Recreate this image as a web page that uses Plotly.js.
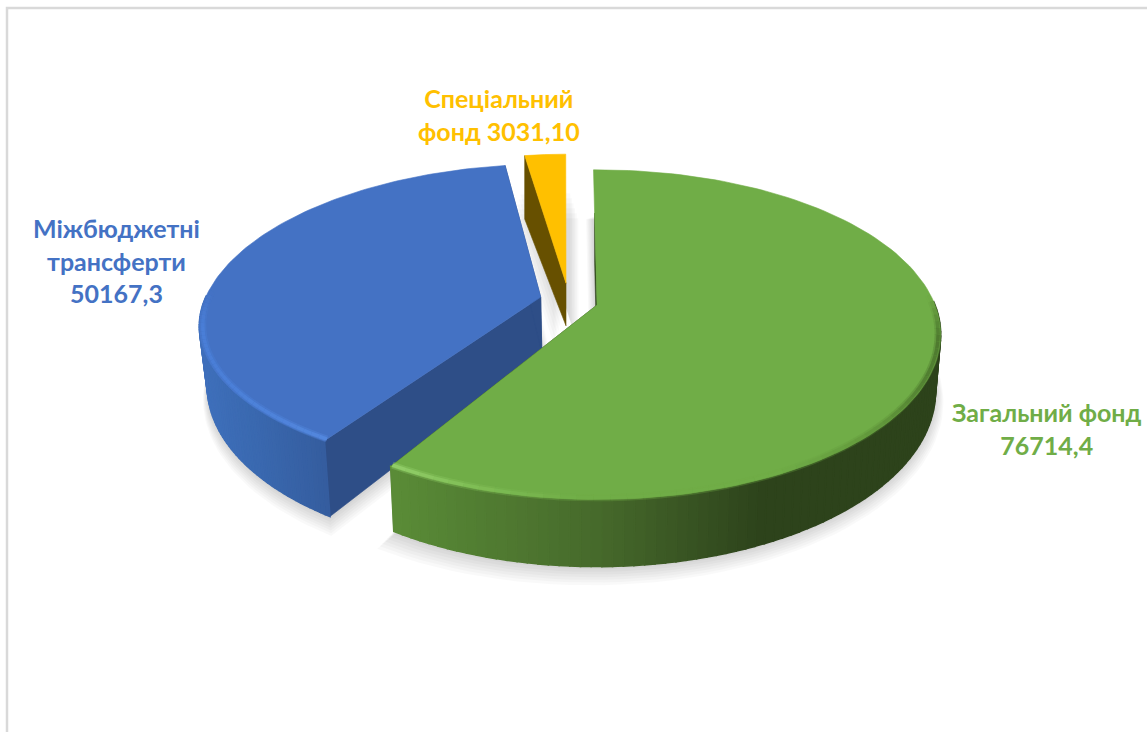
<!DOCTYPE html>
<html><head><meta charset="utf-8">
<script src="https://cdn.plot.ly/plotly-3.0.1.min.js"></script>
<style>html,body{margin:0;padding:0;background:#fff}#c{width:1147px;height:732px}</style>
</head><body><div id="c"></div>
<script>
// --- data ---
const categories = ["Загальний фонд", "Міжбюджетні трансферти", "Спеціальний фонд"];
const values = [76714.4, 50167.3, 3031.10];
const valueLabels = ["76714,4", "50167,3", "3031,10"];
const labelLines = ["Загальний фонд<br>76714,4", "Міжбюджетні<br>трансферти<br>50167,3", "Спеціальний<br>фонд 3031,10"];
const labelColors = ["#70ad47", "#4472c4", "#ffc000"];

// --- view / styling of the tilted pie (not data) ---
const W = 1147, H = 732, CX = 597, CY = 305, RX = 338, RY = 159.5, PERSP = 0.18;
const sliceStyle = [
  {top:"#70ad47", cut:"#2d431b", du:0, dv:0, rot0:-.7, rot:-1.5, vf:1, depth:55, k:1, inset:.985, cutFrac:.68, rimF:.993, rimMin:0.05,
   side:[[390,"#5a8c37"],[600,"#46692b"],[760,"#2d431b"],[950,"#2d431b"]],
   rim:[[390,"#a0dc78"],[470,"#86c55c"],[580,"#70ad47"],[780,"#70ad47"],[880,"#5c9038"],[945,"#3f6325"]]},
  {top:"#4472c4", cut:"#2e4e87", du:-.168, dv:.05, rot0:-.5, rot:-.5, vf:.93, depth:57, k:2, inset:.98, cutFrac:1, rimF:.99, rimMin:0.05,
   side:[[195,"#3f70bc"],[250,"#3a69b0"],[335,"#345b9c"]], rim:[[195,"#4b82dc"],[335,"#5a90e8"]]},
  {top:"#ffc000", cut:"#675000", du:-.094, dv:.14, rot0:-1, rot:-1, vf:1, depth:40, k:-2.5, inset:1, cutFrac:1, side:null, rim:null}
];
const labelPos = [[1047,428],[116,260],[498.5,114]];

const total = values.reduce((a,b)=>a+b,0);
function P(u,v,s,down){
  const uu=u+s.du, vv=(v<0?v*s.vf:v)+s.dv, d=1+PERSP*vv;
  let x=CX+RX*uu/d, y=CY-RY*vv/d;
  if(down){ x=CX+(x-CX)*s.inset; y+=s.depth*Math.pow(d,-s.k); }
  return [x,y];
}
function arc(a0,a1,n){const o=[];for(let i=0;i<=n;i++){const a=(a0+(a1-a0)*i/n)*Math.PI/180;o.push([Math.sin(a),Math.cos(a)]);}return o;}
function hex(c){return [1,3,5].map(i=>parseInt(c.substr(i,2),16));}
function ramp(stops,x){
  if(x<=stops[0][0])return stops[0][1];
  for(let i=1;i<stops.length;i++){ if(x<=stops[i][0]){
    const t=(x-stops[i-1][0])/(stops[i][0]-stops[i-1][0]),a=hex(stops[i-1][1]),b=hex(stops[i][1]);
    return "rgb("+a.map((v,j)=>Math.round(v+(b[j]-v)*t)).join(",")+")";}}
  return stops[stops.length-1][1];
}
const traces=[];
function poly(pts,color,opacity,lw){
  const xs=pts.map(p=>p[0]),ys=pts.map(p=>p[1]);xs.push(xs[0]);ys.push(ys[0]);
  traces.push({type:"scatter",mode:"lines",x:xs,y:ys,fill:"toself",fillcolor:color,opacity:opacity===undefined?1:opacity,
    line:{width:opacity===undefined?(lw===undefined?.6:lw):0,color:color},hoverinfo:"skip",showlegend:false});
}
function line(pts,color,w,opacity){
  traces.push({type:"scatter",mode:"lines",x:pts.map(p=>p[0]),y:pts.map(p=>p[1]),opacity:opacity===undefined?1:opacity,
    line:{width:w,color:color},hoverinfo:"skip",showlegend:false});
}
let acc=0; const spans=values.map(v=>{const a=acc;acc+=v/total*360;return [a,acc];});
const geom=spans.map((sp,i)=>{const s=sliceStyle[i];return {s,a0:sp[0]+s.rot0,a1:sp[1]+s.rot};});

// soft shadows (concentric translucent copies)
function silhouette(g){
  const pts=arc(g.a0,g.a1,90).map(p=>P(p[0],p[1],g.s,true));
  pts.push(P(0,0,g.s,true));
  return pts;
}
[0,1].forEach(i=>{
  const base=silhouette(geom[i]);
  const mx=base.reduce((a,p)=>a+p[0],0)/base.length;
  const my=base.reduce((a,p)=>a+p[1],0)/base.length;
  for(let k=7;k>=1;k--){
    const f=1+k*.0065;
    poly(base.map(p=>[mx+(p[0]-mx)*f,my+(p[1]-my)*f+k*1.6]),"#000000",.022);
  }
});
for(let k=6;k>=1;k--){
  const g=geom[2];
  const t=arc(g.a0,g.a1,4).map(p=>P(p[0],p[1],g.s,false)); t.push(P(0,0,g.s,false));
  poly(t.map(p=>[p[0]+3+k*1.6,p[1]+34+k*5]),"#000000",.024);
  poly(t.map(p=>[p[0]-k*1.4-3,p[1]+34+k*5]),"#000000",.022);
}

function drawSlice(g,idx){
  const s=g.s;
  const A=P(0,0,s,false),Ad=P(0,0,s,true);
  // cut faces
  (idx===2?[g.a0]:[g.a0,g.a1]).forEach(a=>{
    const e=arc(a,a,1)[0],T=P(e[0],e[1],s,false),B=P(e[0],e[1],s,true);
    const fr=(a===g.a0)?s.cutFrac:1;
    poly([A,[A[0]+(T[0]-A[0])*fr,A[1]+(T[1]-A[1])*fr],[Ad[0]+(B[0]-Ad[0])*fr,Ad[1]+(B[1]-Ad[1])*fr],Ad],s.cut);
  });
  // outer wall, front part only
  if(s.side){
    const n=140,ar=arc(g.a0,g.a1,n);
    for(let i=0;i<n;i++){
      if(Math.cos((g.a0+(g.a1-g.a0)*(i+.5)/n)*Math.PI/180)>0.02) continue;
      const p=ar[i],q=ar[i+1];
      const a=P(p[0],p[1],s,false),b=P(q[0],q[1],s,false),c=P(q[0],q[1],s,true),d=P(p[0],p[1],s,true);
      poly([a,b,c,d],ramp(s.side,(a[0]+b[0])/2),undefined,1.6);
    }
  }
  // top face
  const top=arc(g.a0,g.a1,120).map(p=>P(p[0],p[1],s,false));
  top.push(A); poly(top,s.top);
  // bevel along the rim, fading in from the sides of the pie
  if(s.rim){
    const m=90,r=arc(g.a0,g.a1,m);
    for(let i=0;i<m;i++){
      const mid=(g.a0+(g.a1-g.a0)*(i+.5)/m)*Math.PI/180;
      const cs=Math.cos(mid);
      if(cs>s.rimMin) continue;
      const fade=Math.min(1,(s.rimMin-cs)/.25);
      const f=s.rimF;
      const a=P(r[i][0]*f,r[i][1]*f,s,false),b=P(r[i+1][0]*f,r[i+1][1]*f,s,false);
      const col=ramp(s.rim,(a[0]+b[0])/2);
      line([a,b],col,7,.3*fade);
      line([a,b],col,3.5,.6*fade);
    }
  }
}
drawSlice(geom[2],2);
drawSlice(geom[1],1);
drawSlice(geom[0],0);

const annotations=labelLines.map((t,i)=>({x:labelPos[i][0],y:labelPos[i][1],xref:"x",yref:"y",text:t,showarrow:false,
  xanchor:"center",yanchor:"middle",align:"center",
  font:{family:"Lato, 'Noto Sans', sans-serif",size:25,color:labelColors[i],weight:700}}));

const layout={width:W,height:H,margin:{l:0,r:0,t:0,b:0},paper_bgcolor:"#fff",plot_bgcolor:"#fff",showlegend:false,
  xaxis:{range:[0,W],visible:false,fixedrange:true},yaxis:{range:[H,0],visible:false,fixedrange:true},
  annotations,
  shapes:[{type:"path",path:"M 7 "+H+" L 7 8 L "+W+" 8",xref:"x",yref:"y",line:{color:"#d9d9d9",width:2.5}}]};
Plotly.newPlot("c",traces,layout,{staticPlot:true,displayModeBar:false});
</script></body></html>
